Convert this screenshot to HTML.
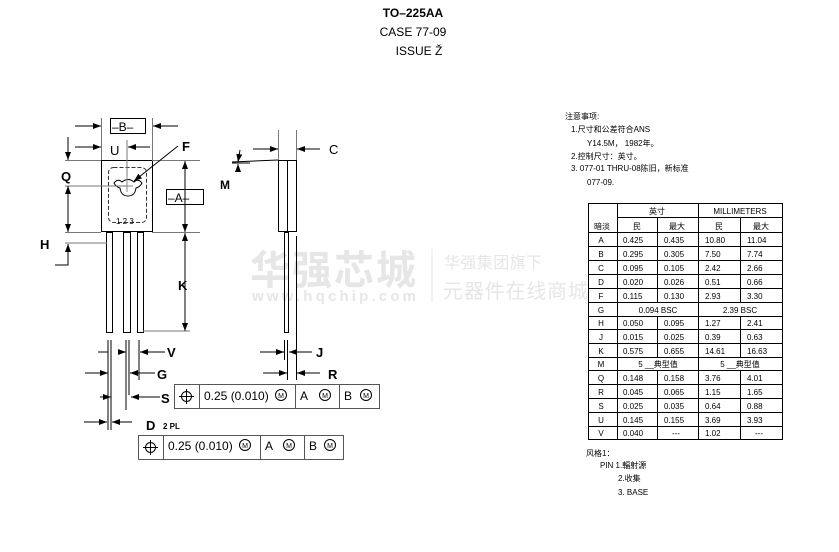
<!DOCTYPE html>
<html><head><meta charset="utf-8"><style>
html,body{margin:0;padding:0;background:#fff;}
svg{display:block;}
text{font-family:"Liberation Sans","Noto Sans CJK SC",sans-serif;fill:#000;}
</style></head><body>
<svg width="839" height="552" viewBox="0 0 839 552" xmlns="http://www.w3.org/2000/svg">
<defs>
<marker id="ar" markerWidth="8" markerHeight="6" refX="8" refY="3" orient="auto" markerUnits="userSpaceOnUse"><path d="M0,0 L8,3 L0,6 z" fill="#000"/></marker>
</defs>
<g>
<text x="250" y="284" font-size="40" font-weight="bold" style="fill:#e6e6e6" textLength="166">华强芯城</text>
<text x="252" y="301" font-size="15" font-weight="bold" style="fill:#e6e6e6" textLength="164">www.hqchip.com</text>
<text x="444" y="268" font-size="16" style="fill:#e6e6e6" textLength="98">华强集团旗下</text>
<text x="443" y="298" font-size="20" style="fill:#e6e6e6" textLength="145">元器件在线商城</text>
</g>
<line x1="432" y1="249" x2="432" y2="302" stroke="#e6e6e6"/>
<text x="413" y="17" font-size="12" font-weight="bold" text-anchor="middle">TO–225AA</text>
<text x="413" y="36" font-size="12" text-anchor="middle">CASE 77-09</text>
<text x="419" y="55" font-size="12" text-anchor="middle">ISSUE Ž</text>

<g stroke="#000" fill="none" stroke-width="1">
<rect x="101.5" y="160.5" width="51" height="71"/>
<rect x="108.5" y="167.5" width="38" height="55" rx="5" stroke-dasharray="4,2" stroke="#333"/>
<path d="M114,183 q4,-5 8,-1 q6,-5 12,0 q4,-4 8,1 q-2,4 -6,5 q-1,8 -8,8 q-7,0 -8,-8 q-4,-1 -6,-5z"/>
<line x1="127" y1="176" x2="127" y2="192" stroke="#888"/>
<line x1="121" y1="186" x2="133" y2="186" stroke="#888"/>
<rect x="106.5" y="232.5" width="6" height="100"/>
<rect x="123.5" y="232.5" width="7" height="100"/>
<rect x="137.5" y="232.5" width="6" height="100"/>
<line x1="108" y1="340" x2="108" y2="430"/><line x1="111" y1="340" x2="111" y2="430"/>
<line x1="126" y1="340" x2="126" y2="410"/><line x1="129" y1="340" x2="129" y2="395"/>
<line x1="139" y1="340" x2="139" y2="380"/>
<line x1="65" y1="160.5" x2="101" y2="160.5" stroke="#777"/>
<line x1="152" y1="160.5" x2="200" y2="160.5" stroke="#777"/>
<line x1="65" y1="232.5" x2="101" y2="232.5" stroke="#777"/>
<line x1="152" y1="232.5" x2="200" y2="232.5" stroke="#777"/>
<line x1="65" y1="186" x2="127" y2="186" stroke="#777"/>
<line x1="65" y1="243" x2="107" y2="243" stroke="#777"/>
<line x1="143" y1="331" x2="190" y2="331" stroke="#777"/>
<line x1="101.5" y1="118" x2="101.5" y2="160" stroke="#777"/>
<line x1="152.5" y1="118" x2="152.5" y2="160" stroke="#777"/>
<line x1="127" y1="140" x2="127" y2="176" stroke="#777"/>
<line x1="75" y1="126" x2="101" y2="126" marker-end="url(#ar)"/>
<line x1="178" y1="126" x2="153" y2="126" marker-end="url(#ar)"/>
<line x1="75" y1="147" x2="101" y2="147" marker-end="url(#ar)"/>
<line x1="150" y1="147" x2="128" y2="147" marker-end="url(#ar)"/>
<line x1="178" y1="146" x2="134" y2="181" marker-end="url(#ar)"/>
<line x1="68" y1="137" x2="68" y2="160" marker-end="url(#ar)"/>
<line x1="68" y1="210" x2="68" y2="186" marker-end="url(#ar)"/>
<line x1="68" y1="210" x2="68" y2="232" marker-end="url(#ar)"/>
<line x1="185" y1="196" x2="185" y2="161" marker-end="url(#ar)"/>
<line x1="185" y1="196" x2="185" y2="232" marker-end="url(#ar)"/>
<line x1="185" y1="280" x2="185" y2="233" marker-end="url(#ar)"/>
<line x1="185" y1="280" x2="185" y2="331" marker-end="url(#ar)"/>
<polyline points="55,265 68,265 68,244" marker-end="url(#ar)"/>
<line x1="98" y1="352" x2="108" y2="352"/>
<line x1="118" y1="352" x2="126" y2="352" marker-end="url(#ar)"/>
<line x1="165" y1="352" x2="140" y2="352" marker-end="url(#ar)"/>
<line x1="85" y1="373" x2="108" y2="373" marker-end="url(#ar)"/>
<line x1="155" y1="373" x2="130" y2="373" marker-end="url(#ar)"/>
<line x1="100" y1="397" x2="111" y2="397" marker-end="url(#ar)"/>
<line x1="160" y1="397" x2="131" y2="397" marker-end="url(#ar)"/>
<line x1="84" y1="422" x2="107" y2="422" marker-end="url(#ar)"/>
<line x1="132" y1="422" x2="112" y2="422" marker-end="url(#ar)"/>
<rect x="278.5" y="160.5" width="18" height="71"/>
<line x1="287.5" y1="160" x2="287.5" y2="231"/>
<rect x="284.5" y="232.5" width="4" height="100"/>
<line x1="296.5" y1="236" x2="296.5" y2="380"/>
<line x1="287.5" y1="340" x2="287.5" y2="380"/>
<line x1="284.5" y1="340" x2="284.5" y2="360"/>
<line x1="278.5" y1="130" x2="278.5" y2="160" stroke="#777"/>
<line x1="296.5" y1="130" x2="296.5" y2="160" stroke="#777"/>
<line x1="253" y1="149" x2="278" y2="149" marker-end="url(#ar)"/>
<line x1="320" y1="149" x2="297" y2="149" marker-end="url(#ar)"/>
<line x1="232" y1="162" x2="278" y2="160"/>
<line x1="232" y1="163" x2="250" y2="163"/>
<line x1="240" y1="150" x2="238" y2="162" marker-end="url(#ar)"/>
<line x1="238" y1="172" x2="238" y2="164" marker-end="url(#ar)"/>
<line x1="260" y1="352" x2="284" y2="352" marker-end="url(#ar)"/>
<line x1="312" y1="352" x2="289" y2="352" marker-end="url(#ar)"/>
<line x1="263" y1="373" x2="287" y2="373" marker-end="url(#ar)"/>
<line x1="320" y1="373" x2="297" y2="373" marker-end="url(#ar)"/>
<rect x="110.5" y="118.5" width="35" height="15"/>
<rect x="166.5" y="189.5" width="37" height="15"/>
<rect x="174.5" y="384.5" width="205" height="24" stroke="#555"/>
<line x1="199.5" y1="384" x2="199.5" y2="408" stroke="#555"/>
<line x1="295.5" y1="384" x2="295.5" y2="408" stroke="#555"/>
<line x1="339.5" y1="384" x2="339.5" y2="408" stroke="#555"/>
<circle cx="186.5" cy="396.5" r="5"/><line x1="179" y1="396.5" x2="194" y2="396.5"/><line x1="186.5" y1="389" x2="186.5" y2="404"/>
<circle cx="281" cy="395" r="5.5"/><circle cx="325" cy="395" r="5.5"/><circle cx="366" cy="395" r="5.5"/>
<rect x="138.5" y="435.5" width="205" height="24" stroke="#555"/>
<line x1="163.5" y1="435" x2="163.5" y2="459" stroke="#555"/>
<line x1="260.5" y1="435" x2="260.5" y2="459" stroke="#555"/>
<line x1="304.5" y1="435" x2="304.5" y2="459" stroke="#555"/>
<circle cx="150.5" cy="447.5" r="5"/><line x1="143" y1="447.5" x2="158" y2="447.5"/><line x1="150.5" y1="440" x2="150.5" y2="455"/>
<circle cx="245" cy="445" r="5.5"/><circle cx="289" cy="445" r="5.5"/><circle cx="330" cy="445" r="5.5"/>
</g>
<g font-size="13" font-weight="bold">
<text x="112" y="131" font-size="12" font-weight="normal">–B–</text>
<text x="168" y="202" font-size="12" font-weight="normal">–A–</text>
<text x="110" y="155" font-weight="normal">U</text>
<text x="182" y="151">F</text>
<text x="61" y="181">Q</text>
<text x="220" y="189" font-size="12">M</text>
<text x="40" y="249">H</text>
<text x="178" y="290">K</text>
<text x="167" y="357">V</text>
<text x="157" y="379">G</text>
<text x="161" y="403">S</text>
<text x="146" y="430">D</text>
<text x="163" y="429" font-size="8">2 PL</text>
<text x="329" y="154" font-weight="normal">C</text>
<text x="316" y="357">J</text>
<text x="328" y="379">R</text>
</g>
<text x="116" y="224" font-size="8">1 2 3</text>
<g font-size="12">
<text x="204" y="400">0.25 (0.010)</text>
<text x="300" y="400">A</text><text x="344" y="400">B</text>
<text x="168" y="450">0.25 (0.010)</text>
<text x="265" y="450">A</text><text x="309" y="450">B</text>
</g>
<g font-size="7">
<text x="281" y="398" text-anchor="middle">M</text><text x="325" y="398" text-anchor="middle">M</text><text x="366" y="398" text-anchor="middle">M</text>
<text x="245" y="448" text-anchor="middle">M</text><text x="289" y="448" text-anchor="middle">M</text><text x="330" y="448" text-anchor="middle">M</text>
</g>
<g font-size="8">
<text x="565" y="119">注意事项:</text>
<text x="571" y="132">1.尺寸和公差符合ANS</text>
<text x="587" y="146">Y14.5M，  1982年。</text>
<text x="571" y="159">2.控制尺寸：英寸。</text>
<text x="571" y="171">3. 077-01 THRU-08陈旧，新标准</text>
<text x="587" y="185">077-09.</text>
</g>
<g stroke="#000" stroke-width="1" fill="none">
<rect x="588.5" y="203.5" width="194" height="236"/>
<line x1="617.5" y1="203" x2="617.5" y2="440"/>
<line x1="698.5" y1="203" x2="698.5" y2="440"/>
<line x1="617" y1="217.5" x2="783" y2="217.5"/>
<line x1="588" y1="232.5" x2="783" y2="232.5"/>
<line x1="657.5" y1="217" x2="657.5" y2="302"/><line x1="657.5" y1="316" x2="657.5" y2="357"/><line x1="657.5" y1="370" x2="657.5" y2="440"/>
<line x1="740.5" y1="217" x2="740.5" y2="302"/><line x1="740.5" y1="316" x2="740.5" y2="357"/><line x1="740.5" y1="370" x2="740.5" y2="440"/>
</g>
<g stroke="#000" stroke-width="1">
<line x1="588" y1="246.5" x2="783" y2="246.5"/>
<line x1="588" y1="260.5" x2="783" y2="260.5"/>
<line x1="588" y1="274.5" x2="783" y2="274.5"/>
<line x1="588" y1="288.5" x2="783" y2="288.5"/>
<line x1="588" y1="302.5" x2="783" y2="302.5"/>
<line x1="588" y1="316.5" x2="783" y2="316.5"/>
<line x1="588" y1="329.5" x2="783" y2="329.5"/>
<line x1="588" y1="343.5" x2="783" y2="343.5"/>
<line x1="588" y1="357.5" x2="783" y2="357.5"/>
<line x1="588" y1="370.5" x2="783" y2="370.5"/>
<line x1="588" y1="384.5" x2="783" y2="384.5"/>
<line x1="588" y1="398.5" x2="783" y2="398.5"/>
<line x1="588" y1="412.5" x2="783" y2="412.5"/>
<line x1="588" y1="426.5" x2="783" y2="426.5"/>
</g>
<g font-size="8">
<text x="657" y="214" text-anchor="middle">英寸</text>
<text x="740" y="214" text-anchor="middle">MILLIMETERS</text>
<text x="602" y="229" text-anchor="middle">暗淡</text>
<text x="637" y="229" text-anchor="middle">民</text><text x="677" y="229" text-anchor="middle">最大</text>
<text x="719" y="229" text-anchor="middle">民</text><text x="761" y="229" text-anchor="middle">最大</text>
</g>
<g font-size="8">
<text x="601" y="243" text-anchor="middle">A</text><text x="623" y="243">0.425</text><text x="664" y="243">0.435</text><text x="705" y="243">10.80</text><text x="747" y="243">11.04</text>
<text x="601" y="257" text-anchor="middle">B</text><text x="623" y="257">0.295</text><text x="664" y="257">0.305</text><text x="705" y="257">7.50</text><text x="747" y="257">7.74</text>
<text x="601" y="271" text-anchor="middle">C</text><text x="623" y="271">0.095</text><text x="664" y="271">0.105</text><text x="705" y="271">2.42</text><text x="747" y="271">2.66</text>
<text x="601" y="285" text-anchor="middle">D</text><text x="623" y="285">0.020</text><text x="664" y="285">0.026</text><text x="705" y="285">0.51</text><text x="747" y="285">0.66</text>
<text x="601" y="299" text-anchor="middle">F</text><text x="623" y="299">0.115</text><text x="664" y="299">0.130</text><text x="705" y="299">2.93</text><text x="747" y="299">3.30</text>
<text x="601" y="313" text-anchor="middle">G</text><text x="658" y="313" text-anchor="middle">0.094 BSC</text><text x="740" y="313" text-anchor="middle">2.39 BSC</text>
<text x="601" y="326" text-anchor="middle">H</text><text x="623" y="326">0.050</text><text x="664" y="326">0.095</text><text x="705" y="326">1.27</text><text x="747" y="326">2.41</text>
<text x="601" y="340" text-anchor="middle">J</text><text x="623" y="340">0.015</text><text x="664" y="340">0.025</text><text x="705" y="340">0.39</text><text x="747" y="340">0.63</text>
<text x="601" y="354" text-anchor="middle">K</text><text x="623" y="354">0.575</text><text x="664" y="354">0.655</text><text x="705" y="354">14.61</text><text x="747" y="354">16.63</text>
<text x="601" y="367" text-anchor="middle">M</text><text x="658" y="367" text-anchor="middle">5 __典型值</text><text x="740" y="367" text-anchor="middle">5 __典型值</text>
<text x="601" y="381" text-anchor="middle">Q</text><text x="623" y="381">0.148</text><text x="664" y="381">0.158</text><text x="705" y="381">3.76</text><text x="747" y="381">4.01</text>
<text x="601" y="395" text-anchor="middle">R</text><text x="623" y="395">0.045</text><text x="664" y="395">0.065</text><text x="705" y="395">1.15</text><text x="747" y="395">1.65</text>
<text x="601" y="409" text-anchor="middle">S</text><text x="623" y="409">0.025</text><text x="664" y="409">0.035</text><text x="705" y="409">0.64</text><text x="747" y="409">0.88</text>
<text x="601" y="423" text-anchor="middle">U</text><text x="623" y="423">0.145</text><text x="664" y="423">0.155</text><text x="705" y="423">3.69</text><text x="747" y="423">3.93</text>
<text x="601" y="436" text-anchor="middle">V</text><text x="623" y="436">0.040</text><text x="672" y="436">---</text><text x="705" y="436">1.02</text><text x="755" y="436">---</text>
</g>
<g font-size="8">
<text x="586" y="456">风格1：</text>
<text x="600" y="468">PIN 1.輻射源</text>
<text x="618" y="481">2.收集</text>
<text x="618" y="495">3. BASE</text>
</g>
</svg>
</body></html>
